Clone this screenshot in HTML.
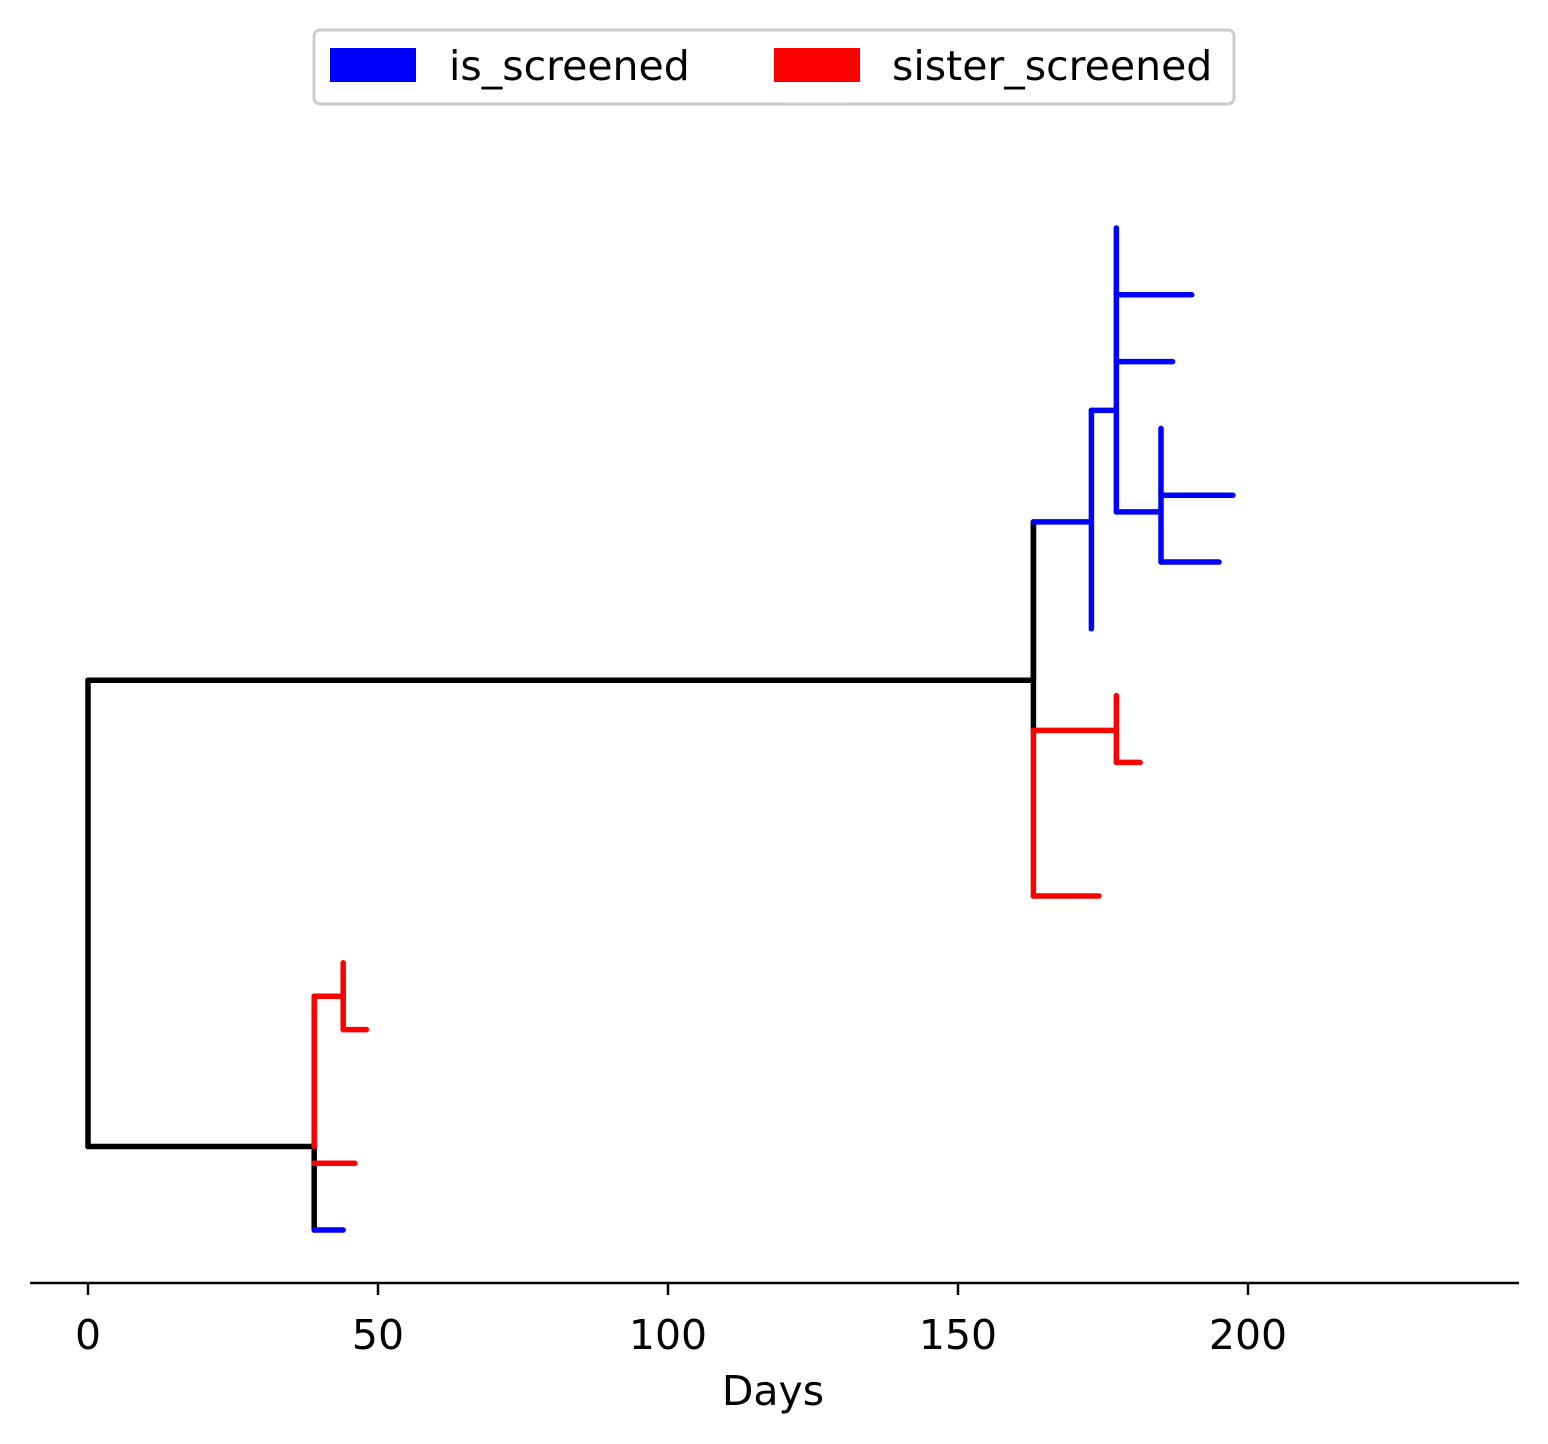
<!DOCTYPE html>
<html><head><meta charset="utf-8"><style>
html,body{margin:0;padding:0;background:#fff;}
svg{display:block;font-family:"DejaVu Sans","Liberation Sans",sans-serif;}
</style></head><body>
<svg id="chart" width="1548" height="1444" viewBox="0 0 1548 1444">
  <g>
    <rect x="314" y="30" width="920" height="74" rx="6" fill="#fff" stroke="#cccccc" stroke-width="3"/>
    <rect x="330" y="48" width="86" height="34" fill="#0000ff"/>
    <text x="449" y="80" font-size="41" fill="#000">is_screened</text>
    <rect x="774" y="48" width="86" height="34" fill="#ff0000"/>
    <text x="892" y="80" font-size="41" fill="#000">sister_screened</text>
  </g>
  <g id="branches"></g>
  <g id="axis">
    <line x1="30" y1="1283" x2="1519" y2="1283" stroke="#000" stroke-width="2.5"/>
  </g>
  <text x="773" y="1405" font-size="41" text-anchor="middle" fill="#000">Days</text>
</svg>
<script>
// x in days, y in leaf-row units (0 = bottom row)
const branchX1 = [0,0,0,163,163,163,173,173,177.3,177.3,177.3,177.3,185,185,185,163,163,177.3,177.3,163,39,39,39,44,44,39,39];
const branchY1 = [1.25,8.23,1.25,8.23,10.6,10.6,9,12.27,15,14,13,10.75,12,11,10,7.48,7.48,8,7,5,0,1.25,3.5,4,3,1,0];
const branchX2 = [0,163,39,163,163,173,173,177.3,177.3,190.3,187,185,185,197.4,195,177.3,163,177.3,181.4,174.3,39,39,44,44,48,46,44];
const branchY2 = [8.23,8.23,1.25,10.6,7.48,10.6,12.27,12.27,10.75,14,13,10.75,10,11,10,7.48,5,7,7,5,1.25,3.5,3.5,3,3,1,0];
const branchColor = ["k","k","k","k","k","b","b","b","b","b","b","b","b","b","b","r","r","r","r","r","k","r","r","r","r","r","b"];
const tickValues = [0,50,100,150,200];
const tickLabels = ["0","50","100","150","200"];

const colors = {k:"#000000", b:"#0000ff", r:"#ff0000"};
const xs = d => 88 + d * 5.8;
const ys = r => 1230 - r * 66.8;
const NS = "http://www.w3.org/2000/svg";
const g = document.getElementById("branches");
for (let i = 0; i < branchX1.length; i++) {
  const l = document.createElementNS(NS, "line");
  l.setAttribute("x1", xs(branchX1[i]));
  l.setAttribute("y1", ys(branchY1[i]));
  l.setAttribute("x2", xs(branchX2[i]));
  l.setAttribute("y2", ys(branchY2[i]));
  l.setAttribute("stroke", colors[branchColor[i]]);
  l.setAttribute("stroke-width", "5.5");
  l.setAttribute("stroke-linecap", "round");
  
  
  g.appendChild(l);
}
const ax = document.getElementById("axis");
tickValues.forEach((v, i) => {
  const t = document.createElementNS(NS, "line");
  t.setAttribute("x1", xs(v)); t.setAttribute("x2", xs(v));
  t.setAttribute("y1", 1283); t.setAttribute("y2", 1295);
  t.setAttribute("stroke", "#000"); t.setAttribute("stroke-width", "2.5");
  
  
  ax.appendChild(t);
  const tx = document.createElementNS(NS, "text");
  tx.setAttribute("x", xs(v)); tx.setAttribute("y", 1349);
  tx.setAttribute("font-size", "41"); tx.setAttribute("text-anchor", "middle");
  tx.textContent = tickLabels[i];
  
  
  ax.appendChild(tx);
});
</script>
</body></html>
